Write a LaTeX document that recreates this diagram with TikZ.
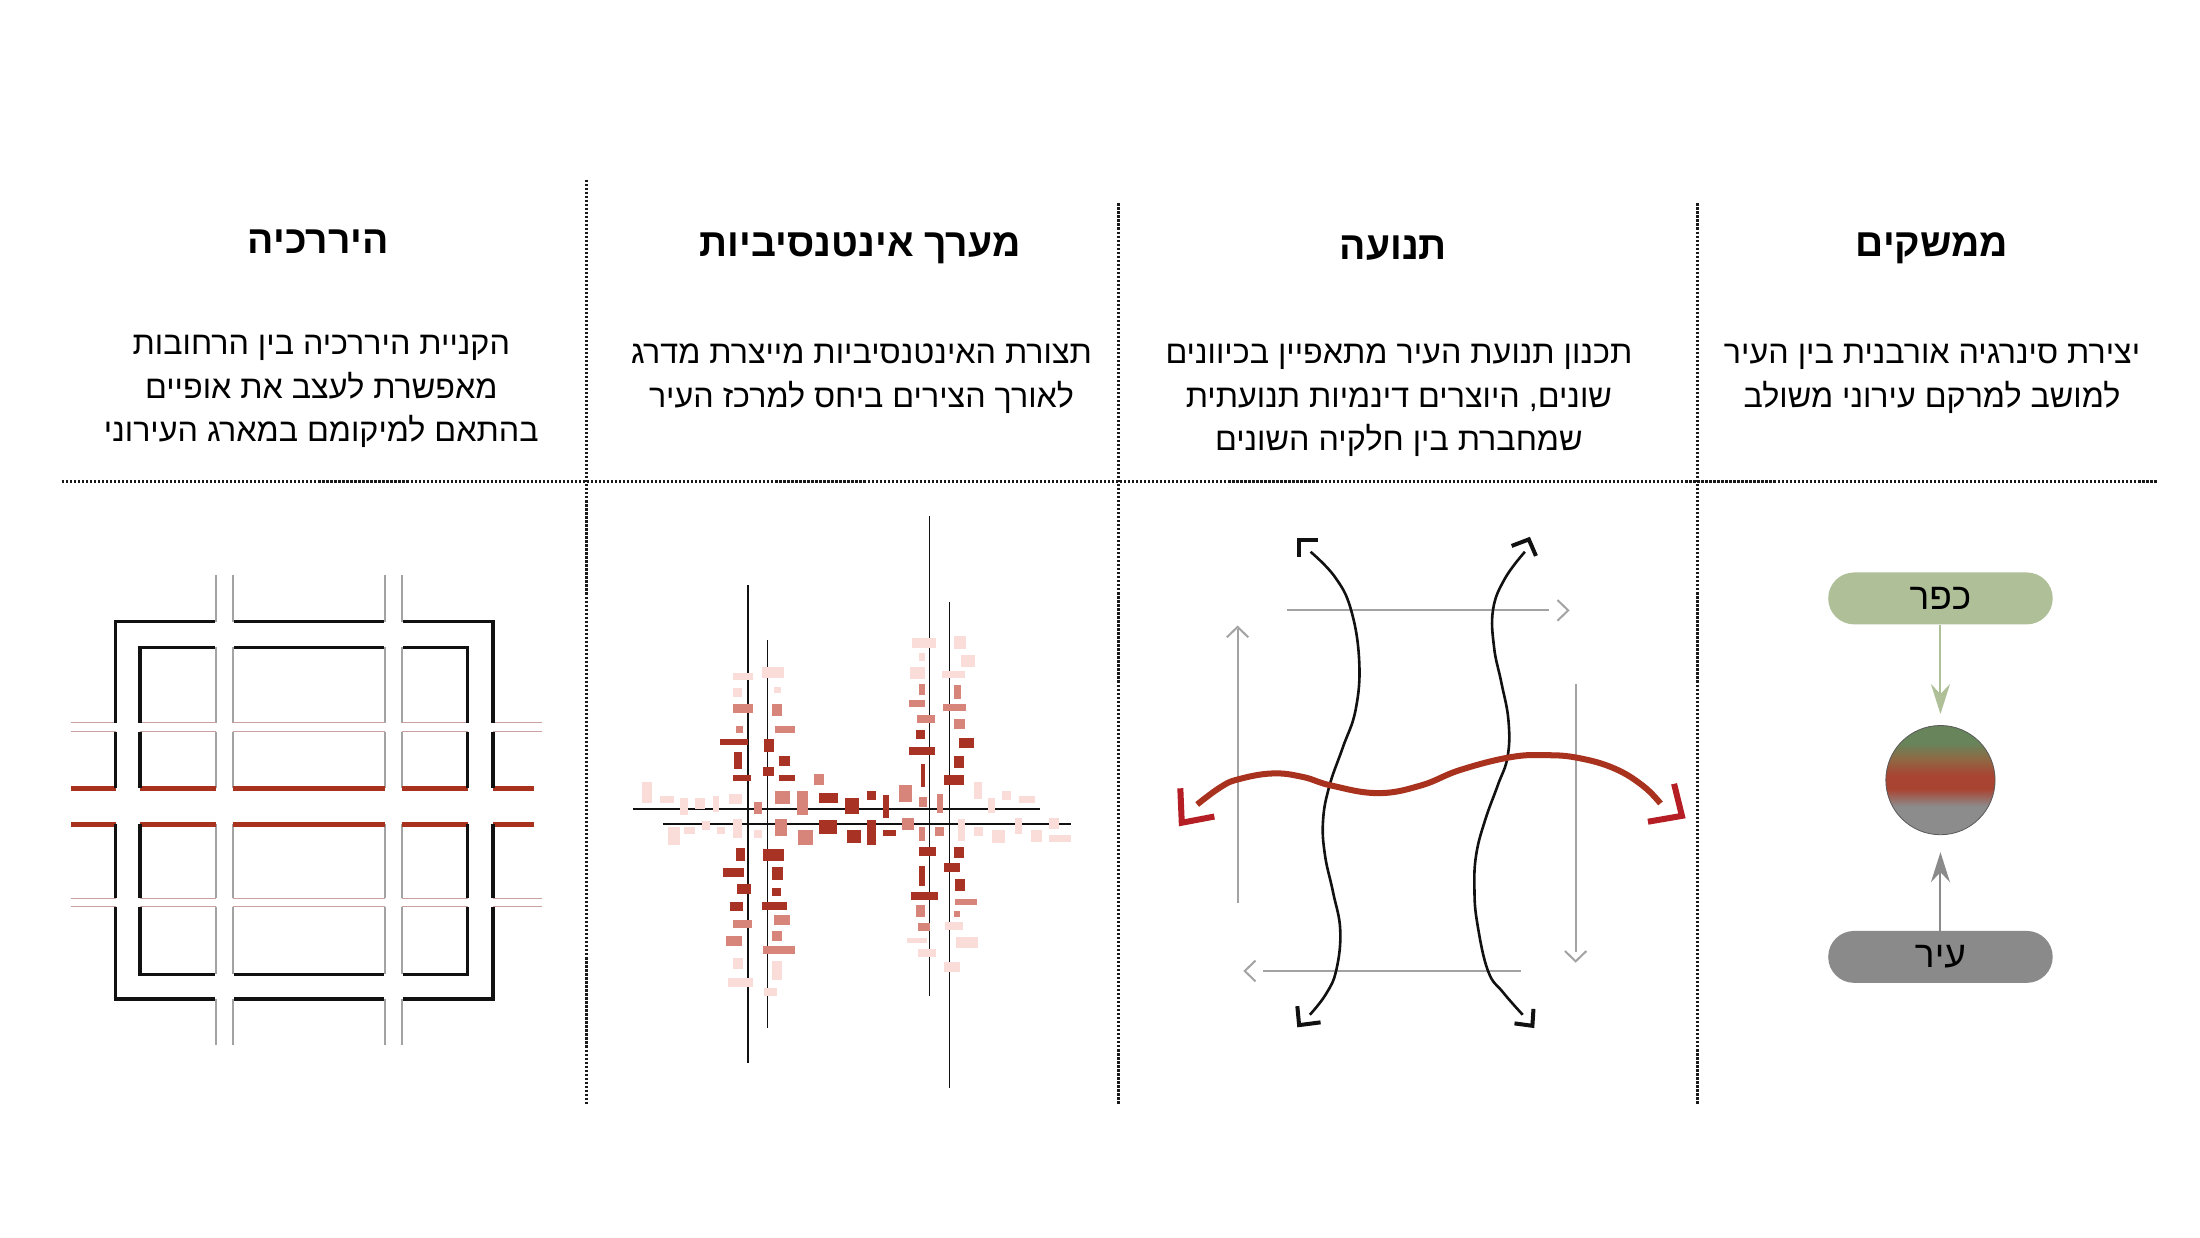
\documentclass[tikz,border=0pt]{standalone}
\usepackage{fontspec}
\setmainfont{Liberation Sans}
\newfontfamily\heb[Script=Hebrew]{Liberation Sans}
\TeXXeTstate=1
\usetikzlibrary{arrows.meta}
\definecolor{sepc}{HTML}{1A1A1A}
\definecolor{blkc}{HTML}{111111}
\definecolor{gryc}{HTML}{A3A3A3}
\definecolor{pnkc}{HTML}{C9A0A0}
\definecolor{rdc}{HTML}{A8321E}
\definecolor{dkr}{HTML}{A83223}
\definecolor{mdr}{HTML}{D7857A}
\definecolor{ltr}{HTML}{FADDD8}
\definecolor{arrred}{HTML}{B51E24}
\definecolor{kfarc}{HTML}{AFC099}
\definecolor{irc}{HTML}{8A8A8A}
\definecolor{orbgreen}{HTML}{67845A}
\definecolor{orbbrown}{HTML}{8E6A45}
\definecolor{orbred}{HTML}{A94332}
\definecolor{orbgray}{HTML}{8C8C8C}
\pgfdeclareverticalshading{orbshade}{100bp}{color(0bp)=(orbgray); color(38bp)=(orbgray); color(46bp)=(orbred); color(52bp)=(orbred); color(60bp)=(orbbrown); color(67bp)=(orbgreen); color(100bp)=(orbgreen)}
\begin{document}
\begin{tikzpicture}[x=0.7pt,y=-0.7pt,
  sepline/.style={draw=sepc,line width=1.5pt,dash pattern=on 1.1pt off 0.9pt},
  titletext/.style={font=\heb\bfseries\fontsize{19.5}{24}\selectfont,inner sep=0pt},
  bodytext/.style={font=\heb\fontsize{16.1}{21.7}\selectfont,align=center,inner sep=0pt},
  blkline/.style={draw=blkc,line width=1.7pt},
  gryline/.style={draw=gryc,line width=1.1pt},
  pnkline/.style={draw=pnkc,line width=0.7pt},
  rdline/.style={draw=rdc,line width=2.5pt},
  axisline/.style={draw=blkc,line width=0.75pt},
  dk/.style={fill=dkr},
  md/.style={fill=mdr},
  lt/.style={fill=ltr},
  wave/.style={draw=blkc,line width=1.3pt},
  wavehead/.style={draw=blkc,line width=2.0pt,miter limit=10},
  redwave/.style={draw=rdc,line width=3.0pt},
  redhead/.style={draw=arrred,line width=3.0pt,miter limit=10},
  gryflow/.style={draw=gryc,line width=1.0pt},
  pill/.style={rounded corners=12.9pt,minimum width=112pt,minimum height=25.9pt,inner sep=0pt,font=\heb\fontsize{18.5}{21}\selectfont},
  linkarrow/.style={line width=1pt,-{Stealth[length=15pt,width=9.5pt,inset=5pt]}}
]
\useasboundingbox (0,0) rectangle (1568,882);
\fill[white] (0,0) rectangle (1568,882);

% separators
\draw[sepline] (44,343) -- (1537,343);
\draw[sepline] (418,128) -- (418,787);
\draw[sepline] (797,145) -- (797,787);
\draw[sepline] (1210,145) -- (1210,787);

% titles
\node[titletext] (t1) at (227,172) {\beginR היררכיה\endR};
\node[titletext] (t2) at (613,177) {\beginR מערך אינטנסיביות\endR};
\node[titletext] (t3) at (993,177) {\beginR תנועה\endR};
\node[titletext] (t4) at (1377,177) {\beginR ממשקים\endR};

% bodies
\node[bodytext] (b1) at (229,279) {\beginR הקניית היררכיה בין הרחובות\endR\\\beginR מאפשרת לעצב את אופיים\endR\\\beginR בהתאם למיקומם במארג העירוני\endR};
\node[bodytext] (b2) at (614,270) {\beginR תצורת האינטנסיביות מייצרת מדרג\endR\\\beginR לאורך הצירים ביחס למרכז העיר\endR};
\node[bodytext] (b3) at (997,285.5) {\beginR תכנון תנועת העיר מתאפיין בכיוונים\endR\\\beginR שונים, היוצרים דינמיות תנועתית\endR\\\beginR שמחברת בין חלקיה השונים\endR};
\node[bodytext] (b4) at (1377,270) {\beginR יצירת סינרגיה אורבנית בין העיר\endR\\\beginR למושב למרקם עירוני משולב\endR};

% ---------- column 1: hierarchy grid ----------
\foreach \g in {154,165.8,274.4,286.3}{
  \draw[gryline] (\g,409.8) -- (\g,443);
  \draw[gryline] (\g,461.4) -- (\g,515);
  \draw[gryline] (\g,521.5) -- (\g,561.7);
  \draw[gryline] (\g,587.3) -- (\g,640.3);
  \draw[gryline] (\g,646.2) -- (\g,694.5);
  \draw[gryline] (\g,712) -- (\g,744.8);
}
\foreach \y in {515,521.5,640.3,646.2}{
  \draw[pnkline] (50.6,\y) -- (82.4,\y);
  \draw[pnkline] (99.8,\y) -- (154,\y);
  \draw[pnkline] (165.8,\y) -- (274.4,\y);
  \draw[pnkline] (286.3,\y) -- (333.3,\y);
  \draw[pnkline] (351.5,\y) -- (386,\y);
}
\foreach \y in {561.7,587.3}{
  \draw[rdline] (50.6,\y) -- (82.4,\y);
  \draw[rdline] (99.8,\y) -- (154,\y);
  \draw[rdline] (165.8,\y) -- (274.4,\y);
  \draw[rdline] (286.3,\y) -- (333.3,\y);
  \draw[rdline] (351.5,\y) -- (380.8,\y);
}
% outer block edge
\draw[blkline] (153,443) -- (82.4,443) -- (82.4,515);
\draw[blkline] (82.4,521.5) -- (82.4,561.7);
\draw[blkline] (82.4,587.3) -- (82.4,640.3);
\draw[blkline] (82.4,646.2) -- (82.4,712) -- (153,712);
\draw[blkline] (166.8,712) -- (273.4,712);
\draw[blkline] (287.3,712) -- (351.5,712) -- (351.5,646.2);
\draw[blkline] (351.5,640.3) -- (351.5,587.3);
\draw[blkline] (351.5,561.7) -- (351.5,521.5);
\draw[blkline] (351.5,515) -- (351.5,443) -- (287.3,443);
\draw[blkline] (273.4,443) -- (166.8,443);
% inner block edge
\draw[blkline] (153,461.4) -- (99.8,461.4) -- (99.8,515);
\draw[blkline] (99.8,521.5) -- (99.8,561.7);
\draw[blkline] (99.8,587.3) -- (99.8,640.3);
\draw[blkline] (99.8,646.2) -- (99.8,694.5) -- (153,694.5);
\draw[blkline] (166.8,694.5) -- (273.4,694.5);
\draw[blkline] (287.3,694.5) -- (333.3,694.5) -- (333.3,646.2);
\draw[blkline] (333.3,640.3) -- (333.3,587.3);
\draw[blkline] (333.3,561.7) -- (333.3,521.5);
\draw[blkline] (333.3,515) -- (333.3,461.4) -- (287.3,461.4);
\draw[blkline] (273.4,461.4) -- (166.8,461.4);

% ---------- column 2: intensity ----------
\begin{scope}[shift={(436,357.1)},xscale=0.2377,yscale=0.2732]
\draw[axisline] (408,220) -- (408,1465);
\draw[axisline] (467,362) -- (467,1375);
\draw[axisline] (953,40) -- (953,1290);
\draw[axisline] (1013,263) -- (1013,1530);
\draw[axisline] (65,803) -- (1283,803);
\draw[axisline] (153,843) -- (1377,843);
% left cluster, above
\fill[lt] (363,448) rectangle (425,466);
\fill[lt] (450,432) rectangle (517,462);
\fill[lt] (365,488) rectangle (390,510);
\fill[lt] (487,484) rectangle (507,500);
\fill[md] (363,530) rectangle (425,552);
\fill[md] (480,530) rectangle (510,562);
\fill[md] (488,586) rectangle (548,604);
\fill[md] (373,586) rectangle (395,604);
\fill[dk] (325,622) rectangle (408,637);
\fill[dk] (458,622) rectangle (487,655);
\fill[dk] (368,655) rectangle (392,698);
\fill[dk] (502,666) rectangle (533,692);
\fill[dk] (455,693) rectangle (485,718);
\fill[dk] (363,716) rectangle (417,730);
\fill[dk] (502,716) rectangle (548,730);
% central band
\fill[md] (605,713) rectangle (637,740);
\fill[lt] (92,733) rectangle (120,788);
\fill[lt] (146,769) rectangle (186,789);
\fill[lt] (205,776) rectangle (230,820);
\fill[lt] (250,776) rectangle (280,803);
\fill[lt] (305,770) rectangle (323,810);
\fill[lt] (352,764) rectangle (392,790);
\fill[md] (427,785) rectangle (450,817);
\fill[md] (488,757) rectangle (533,790);
\fill[md] (555,757) rectangle (588,820);
\fill[dk] (622,762) rectangle (678,788);
\fill[dk] (700,775) rectangle (740,817);
\fill[dk] (766,756) rectangle (793,780);
\fill[dk] (812,768) rectangle (830,826);
\fill[md] (860,742) rectangle (900,784);
\fill[md] (922,773) rectangle (946,797);
\fill[md] (975,765) rectangle (993,815);
\fill[lt] (1085,733) rectangle (1110,778);
\fill[lt] (1127,776) rectangle (1150,815);
\fill[lt] (1170,757) rectangle (1198,780);
\fill[lt] (1222,769) rectangle (1270,789);
\fill[lt] (170,851) rectangle (204,897);
\fill[lt] (217,851) rectangle (250,868);
\fill[lt] (270,835) rectangle (296,857);
\fill[lt] (315,851) rectangle (340,868);
\fill[lt] (365,830) rectangle (390,880);
\fill[lt] (428,858) rectangle (452,879);
\fill[md] (488,830) rectangle (525,875);
\fill[md] (557,858) rectangle (604,897);
\fill[dk] (622,833) rectangle (675,868);
\fill[dk] (705,858) rectangle (746,893);
\fill[dk] (766,833) rectangle (793,897);
\fill[dk] (812,858) rectangle (852,875);
\fill[md] (870,828) rectangle (905,857);
\fill[md] (920,851) rectangle (940,887);
\fill[md] (968,851) rectangle (996,875);
\fill[lt] (1037,830) rectangle (1059,886);
\fill[lt] (1085,851) rectangle (1112,874);
\fill[lt] (1140,858) rectangle (1180,893);
\fill[lt] (1208,828) rectangle (1230,868);
\fill[lt] (1257,858) rectangle (1290,890);
\fill[lt] (1310,828) rectangle (1340,855);
\fill[lt] (1310,870) rectangle (1378,890);
% left cluster, below
\fill[dk] (372,905) rectangle (401,938);
\fill[dk] (455,908) rectangle (517,938);
\fill[dk] (333,958) rectangle (396,982);
\fill[dk] (480,955) rectangle (513,988);
\fill[dk] (376,1000) rectangle (417,1025);
\fill[dk] (480,1010) rectangle (507,1030);
\fill[dk] (355,1045) rectangle (393,1070);
\fill[dk] (450,1045) rectangle (525,1066);
\fill[md] (363,1093) rectangle (422,1113);
\fill[md] (485,1081) rectangle (533,1105);
\fill[md] (342,1135) rectangle (390,1162);
\fill[md] (480,1122) rectangle (510,1147);
\fill[md] (453,1162) rectangle (548,1183);
\fill[lt] (363,1193) rectangle (395,1220);
\fill[lt] (480,1199) rectangle (511,1250);
\fill[lt] (350,1244) rectangle (425,1267);
\fill[lt] (457,1270) rectangle (494,1292);
% right cluster, above
\fill[lt] (900,357) rectangle (972,383);
\fill[lt] (1025,352) rectangle (1062,385);
\fill[lt] (1048,402) rectangle (1090,432);
\fill[lt] (920,397) rectangle (940,418);
\fill[lt] (893,434) rectangle (940,463);
\fill[lt] (990,443) rectangle (1058,462);
\fill[md] (920,478) rectangle (940,505);
\fill[md] (1026,480) rectangle (1048,517);
\fill[md] (892,518) rectangle (940,537);
\fill[md] (993,529) rectangle (1063,548);
\fill[md] (914,557) rectangle (968,580);
\fill[md] (1026,568) rectangle (1058,595);
\fill[dk] (913,598) rectangle (940,620);
\fill[dk] (1042,618) rectangle (1085,643);
\fill[dk] (892,641) rectangle (968,663);
\fill[dk] (1026,665) rectangle (1056,696);
\fill[dk] (926,686) rectangle (940,746);
\fill[dk] (997,714) rectangle (1056,740);
% right cluster, below
\fill[dk] (920,903) rectangle (972,927);
\fill[dk] (1026,903) rectangle (1056,930);
\fill[dk] (920,952) rectangle (940,1003);
\fill[dk] (997,945) rectangle (1045,968);
\fill[dk] (1030,985) rectangle (1058,1018);
\fill[dk] (897,1020) rectangle (978,1040);
\fill[md] (1030,1038) rectangle (1095,1055);
\fill[md] (912,1053) rectangle (940,1085);
\fill[md] (1026,1070) rectangle (1045,1085);
\fill[md] (917,1102) rectangle (953,1122);
\fill[lt] (1000,1098) rectangle (1053,1120);
\fill[lt] (885,1140) rectangle (945,1152);
\fill[lt] (1033,1138) rectangle (1098,1167);
\fill[lt] (917,1168) rectangle (972,1190);
\fill[lt] (997,1202) rectangle (1045,1228);
\end{scope}

% ---------- column 3: movement ----------
\begin{scope}[shift={(818.8,363.3)},xscale=0.255,yscale=0.2457]
% grey flows
\draw[gryflow] (248,1140) -- (248,345);
\draw[gryflow,miter limit=10] (218,370) -- (248,340) -- (278,370);
\draw[gryflow] (387,292) -- (1117,292);
\draw[gryflow,miter limit=10] (1142,262) -- (1172,292) -- (1142,322);
\draw[gryflow] (1193,505) -- (1193,1282);
\draw[gryflow,miter limit=10] (1163,1280) -- (1193,1310) -- (1223,1280);
\draw[gryflow] (1040,1338) -- (318,1338);
\draw[gryflow,miter limit=10] (298,1308) -- (268,1338) -- (298,1368);
% black waves
\draw[wave] plot[smooth,tension=0.7] coordinates {(452,122) (520,195) (565,290) (588,440) (578,580) (542,690) (505,800) (487,900) (492,1000) (515,1110) (535,1220) (524,1335) (495,1405) (450,1465)};
\draw[wavehead] (472,88) -- (420,88) -- (420,138);
\draw[wavehead] (415,1440) -- (420,1495) -- (480,1487);
\draw[wave] plot[smooth,tension=0.7] coordinates {(1051,122) (995,200) (962,290) (965,400) (985,500) (1005,610) (1003,715) (975,800) (940,900) (915,1000) (910,1100) (918,1200) (948,1338) (990,1400) (1045,1465)};
\draw[wavehead] (1014,105) -- (1062,86) -- (1082,134);
\draw[wavehead] (1022,1490) -- (1072,1497) -- (1075,1448);
% red wave
\draw[redwave] plot[smooth,tension=0.7] coordinates {(135,855) (200,805) (250,782) (345,765) (430,775) (510,800) (640,822) (760,800) (870,755) (1010,718) (1110,712) (1200,720) (1300,750) (1380,800) (1430,852)};
\draw[redhead] (88,808) -- (92,908) -- (183,890);
\draw[redhead] (1468,795) -- (1490,888) -- (1395,905);
\end{scope}

% ---------- column 4: interfaces ----------
\node[pill,fill=kfarc] (kfar) at (1383,426.5) {\beginR כפר\endR};
\node[circle,minimum size=54.5pt,inner sep=0pt,shading=orbshade,draw=gray!70!black,line width=0.4pt] (orb) at (1383,556) {};
\node[pill,fill=irc] (ir) at (1383,682) {\beginR עיר\endR};
\draw[linkarrow,draw=kfarc,fill=kfarc,shorten >=5.5pt] (kfar.south) -- (orb.north);
\draw[linkarrow,draw=irc,fill=irc,shorten >=8.5pt] (ir.north) -- (orb.south);
\end{tikzpicture}
\end{document}
